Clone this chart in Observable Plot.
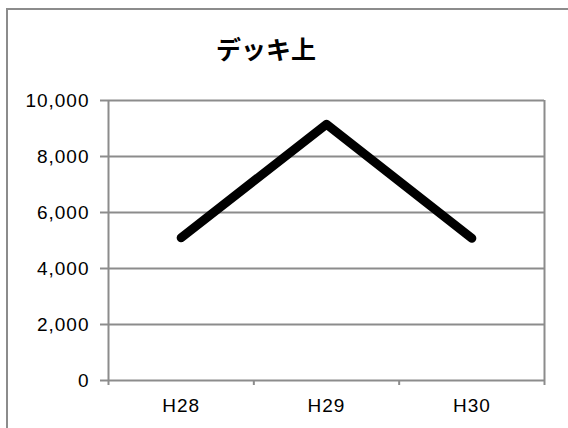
<!DOCTYPE html>
<html>
<head>
<meta charset="utf-8">
<script src="https://cdn.jsdelivr.net/npm/d3@7"></script>
<script src="https://cdn.jsdelivr.net/npm/@observablehq/plot@0.6"></script>
<style>
  html, body { margin: 0; padding: 0; background: #fff; overflow: hidden; }
  #wrap { position: relative; width: 568px; height: 428px; }
  #frame { position: absolute; left: 6px; top: 8px; width: 620px; height: 500px; border: 2px solid #8c8c8c; box-sizing: border-box; }
  #title { position: absolute; left: 0; top: 30px; width: 532px; text-align: center; font-family: "Noto Sans CJK JP", sans-serif; font-weight: bold; font-size: 25px; line-height: 36px; color: #000; }
  #chart { position: absolute; left: 0; top: 0; }
  #chart svg text { letter-spacing: 1px; }
</style>
</head>
<body>
<div id="wrap">
  <div id="frame"></div>
  <div id="chart"></div>
  <div id="title">デッキ上</div>
</div>
<script>
const title = "デッキ上";
const categories = ["H28", "H29", "H30"];
const values = [5100, 9150, 5080];
const yTicks = [0, 2000, 4000, 6000, 8000, 10000];

const data = categories.map((c, i) => ({i: i + 0.5, cat: c, value: values[i]}));
const boundaries = d3.range(categories.length + 1);
const fmt = d3.format(",");
const gray = "#8c8c8c";

const chart = Plot.plot({
  width: 568,
  height: 428,
  marginLeft: 108,
  marginRight: 24,
  marginTop: 100,
  marginBottom: 48,
  style: {fontFamily: "'Liberation Sans', Arial, sans-serif", fontSize: "19px", color: "#000", background: "transparent"},
  x: {domain: [0, categories.length], label: null},
  y: {domain: [0, 10000], label: null},
  marks: [
    Plot.ruleY(yTicks, {stroke: gray, strokeWidth: 2, strokeOpacity: 1}),
    Plot.ruleX([0, categories.length], {stroke: gray, strokeWidth: 2, y1: 0, y2: 10000}),
    Plot.axisY({ticks: yTicks, tickFormat: fmt, tickSize: 8, tickPadding: 11, fontSize: 19, stroke: gray, strokeWidth: 2, strokeOpacity: 1, fill: "#000", label: null}),
    Plot.axisX({ticks: data.map(d => d.i), tickFormat: t => categories[Math.floor(t)], tickSize: 0, tickPadding: 18, fontSize: 19, fill: "#000", label: null}),
    Plot.axisX({ticks: boundaries, tickFormat: () => "", tickSize: 5, stroke: gray, strokeWidth: 2, strokeOpacity: 1, label: null}),
    Plot.line(data, {x: "i", y: "value", stroke: "#000", strokeWidth: 9, strokeLinecap: "round", strokeLinejoin: "round"})
  ]
});
document.getElementById("chart").appendChild(chart);
</script>
</body>
</html>
